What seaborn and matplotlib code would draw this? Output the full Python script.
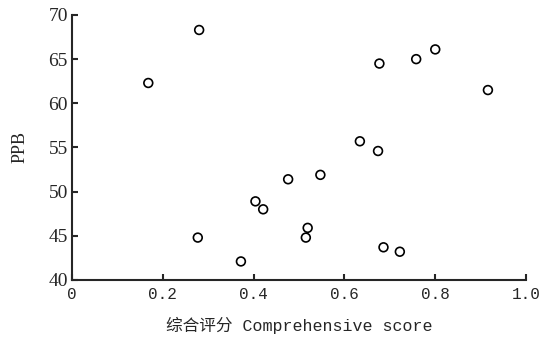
import matplotlib
matplotlib.use("Agg")
import matplotlib.pyplot as plt
import seaborn as sns
import pandas as pd

# Values
score = [0.168, 0.280, 0.677, 0.758, 0.800, 0.916, 0.634, 0.674, 0.277,
         0.372, 0.404, 0.421, 0.476, 0.547, 0.519, 0.515, 0.686, 0.722]
ppb = [62.3, 68.3, 64.5, 65.0, 66.1, 61.5, 55.7, 54.6, 44.8,
       42.1, 48.9, 48.0, 51.4, 51.9, 45.9, 44.8, 43.7, 43.2]
x_ticks = [0, 0.2, 0.4, 0.6, 0.8, 1.0]
x_labels = ["0", "0.2", "0.4", "0.6", "0.8", "1.0"]
y_ticks = [40, 45, 50, 55, 60, 65, 70]

df = pd.DataFrame({"score": score, "ppb": ppb})

sns.set_style("ticks")
plt.rcParams["font.family"] = ["Liberation Serif", "Noto Sans CJK SC"]

fig = plt.figure(figsize=(5.39, 3.40), dpi=100)
ax = fig.add_axes([0.1336, 0.1765, 0.8424, 0.7795])

sns.scatterplot(data=df, x="score", y="ppb", ax=ax, marker="o", s=40,
                facecolor="none", edgecolor="black", linewidth=1.2)

ax.set_xlim(0, 1.0)
ax.set_ylim(40, 70)
ax.set_xticks(x_ticks)
ax.set_xticklabels(x_labels, family=["Liberation Mono"], fontsize=11.5)
ax.set_yticks(y_ticks)
ax.tick_params(axis="y", labelsize=14, direction="in", length=4, width=1.5, pad=3)
ax.tick_params(axis="x", direction="in", length=4, width=1.5, pad=5)

for side in ["top", "right"]:
    ax.spines[side].set_visible(False)
for side in ["left", "bottom"]:
    ax.spines[side].set_linewidth(1.5)

ax.set_xlabel("综合评分 Comprehensive score", family=["Liberation Mono", "Noto Sans CJK SC"],
              fontsize=12, labelpad=11)
ax.set_ylabel("PPB", fontsize=13, labelpad=14)

fig.savefig("out.png", dpi=100)
